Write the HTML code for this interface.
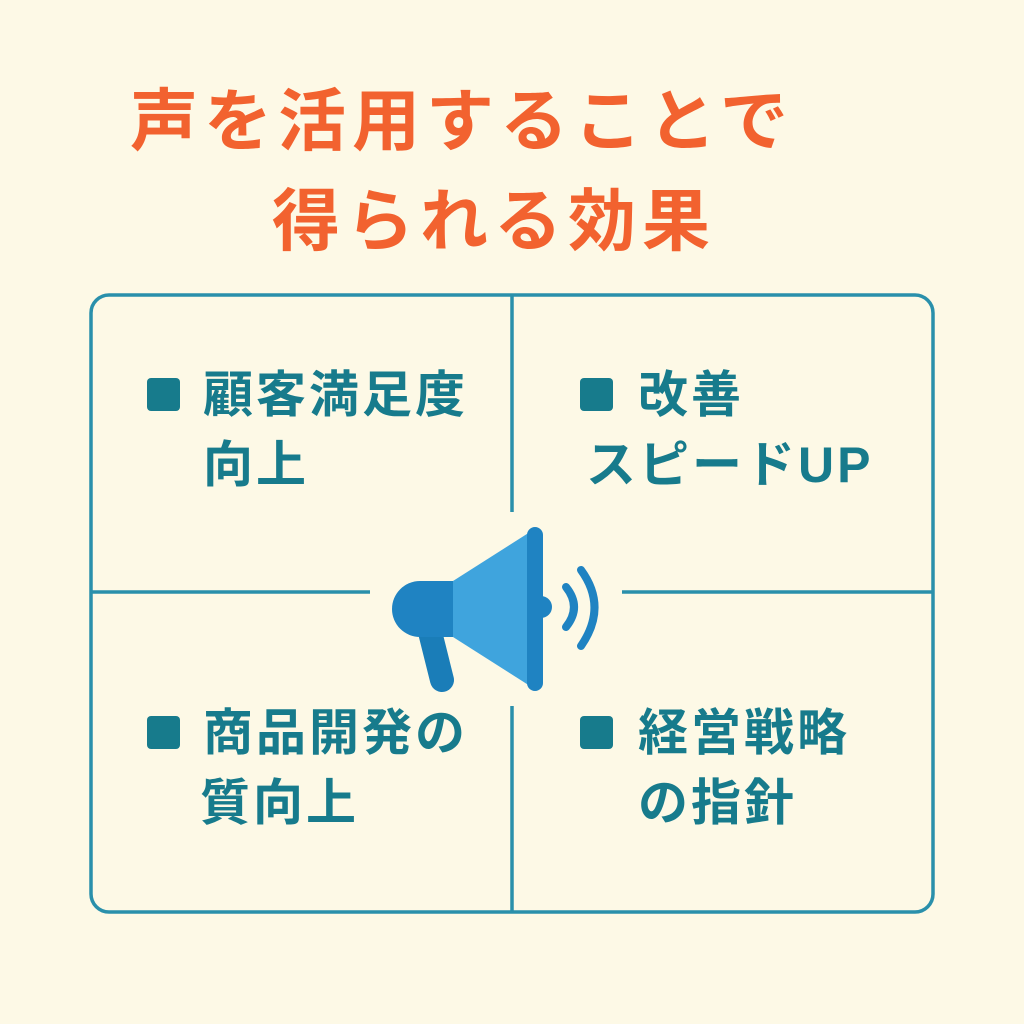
<!DOCTYPE html>
<html><head><meta charset="utf-8"><style>
body{margin:0;width:1024px;height:1024px;background:#fdf9e6;position:relative;overflow:hidden;font-family:"Liberation Sans","Noto Sans CJK JP",sans-serif}
.t{position:absolute;color:#f2622f;font-size:68px;font-weight:bold;letter-spacing:6px;white-space:nowrap;line-height:1}
.b{position:absolute;color:#177b8c;font-size:50px;font-weight:bold;letter-spacing:3px;white-space:nowrap;line-height:1}
.sq{position:absolute;width:33px;height:33px;background:#177b8c;border-radius:4px}
</style></head><body>
<div class="t" style="left:130px;top:88px">声を活用することで</div>
<div class="t" style="left:272px;top:188px">得られる効果</div>
<svg width="1024" height="1024" style="position:absolute;left:0;top:0">
<rect x="91" y="295" width="842" height="617" rx="18" fill="none" stroke="#2a90ab" stroke-width="3.5"/>
<line x1="512" y1="295" x2="512" y2="512" stroke="#2a90ab" stroke-width="3.5"/>
<line x1="512" y1="706" x2="512" y2="912" stroke="#2a90ab" stroke-width="3.5"/>
<line x1="91" y1="592" x2="370" y2="592" stroke="#2a90ab" stroke-width="3.5"/>
<line x1="622" y1="592" x2="933" y2="592" stroke="#2a90ab" stroke-width="3.5"/>
<line x1="430" y1="632" x2="442" y2="680" stroke="#1a7db8" stroke-width="24" stroke-linecap="round"/>
<path d="M453 581 H420 A28 28 0 0 0 420 637 H453 Z" fill="#1f83c2"/>
<polygon points="453,581 530,532 530,686 453,637" fill="#3fa4dd"/>
<circle cx="541" cy="607" r="11" fill="#1f83c2"/>
<line x1="535" y1="535" x2="535" y2="683" stroke="#1f83c2" stroke-width="16" stroke-linecap="round"/>
<path d="M566 587 Q582 607 566 627" fill="none" stroke="#1f83c2" stroke-width="8" stroke-linecap="round"/>
<path d="M581 570 Q608 607 581 646" fill="none" stroke="#1f83c2" stroke-width="8" stroke-linecap="round"/>
</svg>
<div class="sq" style="left:147px;top:378px"></div>
<div class="b" style="left:203px;top:370px">顧客満足度</div>
<div class="b" style="left:203px;top:440px">向上</div>
<div class="sq" style="left:580px;top:378px"></div>
<div class="b" style="left:638px;top:370px">改善</div>
<div class="b" style="left:586px;top:440px">スピードUP</div>
<div class="sq" style="left:147px;top:716px"></div>
<div class="b" style="left:203px;top:708px">商品開発の</div>
<div class="b" style="left:200px;top:778px">質向上</div>
<div class="sq" style="left:580px;top:716px"></div>
<div class="b" style="left:638px;top:708px">経営戦略</div>
<div class="b" style="left:638px;top:778px">の指針</div>
</body></html>
